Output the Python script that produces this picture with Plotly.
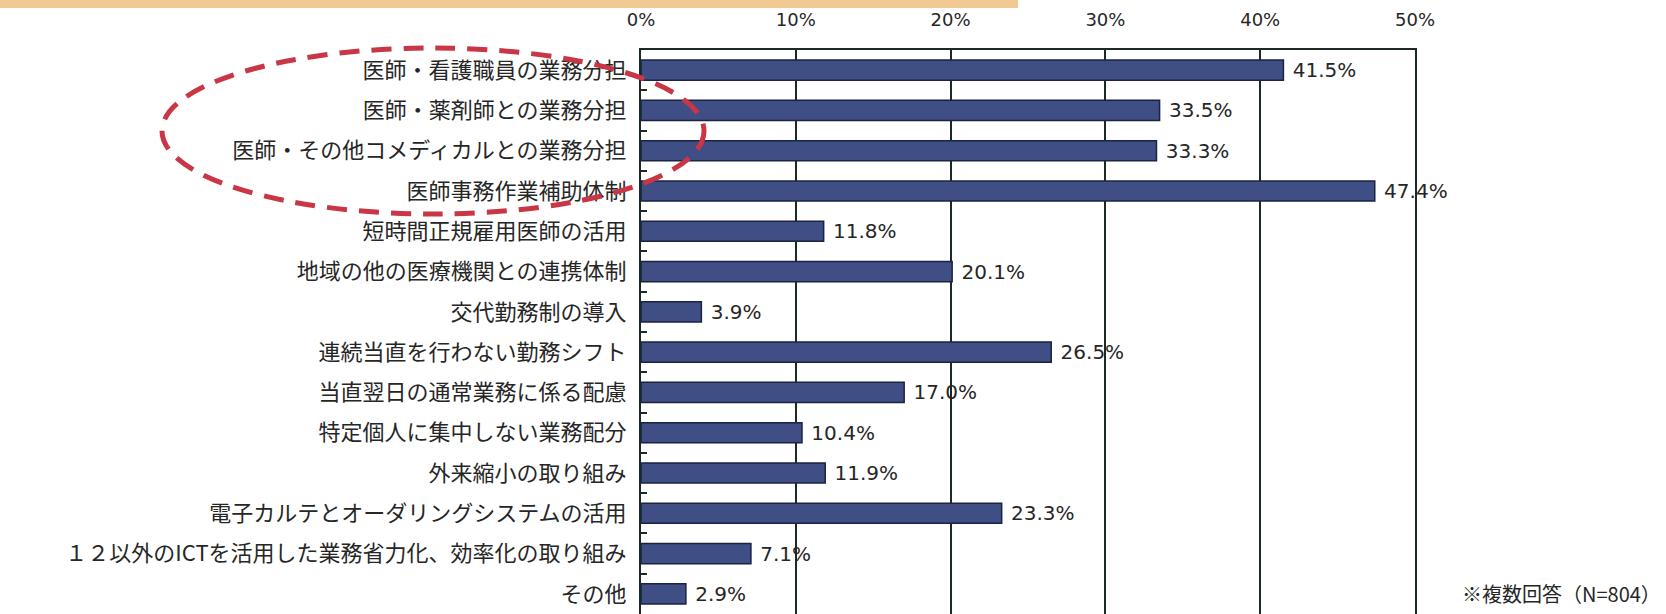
import plotly.graph_objects as go

# ── Data ──────────────────────────────────────────────────────────────────────
categories = [
    "医師・看護職員の業務分担",
    "医師・薬剤師との業務分担",
    "医師・その他コメディカルとの業務分担",
    "医師事務作業補助体制",
    "短時間正規雇用医師の活用",
    "地域の他の医療機関との連携体制",
    "交代勤務制の導入",
    "連続当直を行わない勤務シフト",
    "当直翌日の通常業務に係る配慮",
    "特定個人に集中しない業務配分",
    "外来縮小の取り組み",
    "電子カルテとオーダリングシステムの活用",
    "１２以外のICTを活用した業務省力化、効率化の取り組み",
    "その他",
]
percents = [41.5, 33.5, 33.3, 47.4, 11.8, 20.1, 3.9, 26.5, 17.0, 10.4, 11.9, 23.3, 7.1, 2.9]
x_ticks = [0, 10, 20, 30, 40, 50]
x_tick_labels = ["0%", "10%", "20%", "30%", "40%", "50%"]
note = "※複数回答（N=804）"

# ── Layout constants (pixels) ────────────────────────────────────────────────
W, H = 1666, 614
ML, MR, MT, MB = 641, 251, 50, 0
PW, PH = W - ML - MR, H - MT - MB

def px_x(px):
    return (px - ML) / PW

def px_y(py):
    return (H - MB - py) / PH

GRID = "#1c2a27"
BAR_FILL = "#3f4f86"
BAR_EDGE = "#1b2340"
TXT = "#262626"
JP = "Noto Sans CJK JP"
LAT = "DejaVu Sans"

fig = go.Figure(go.Bar(
    x=percents, y=categories, orientation="h",
    marker=dict(color=BAR_FILL, line=dict(color=BAR_EDGE, width=1.5)),
    texttemplate=" %{x:.1f}%", textposition="outside",
    textfont=dict(family=LAT, size=20, color=TXT),
    cliponaxis=False, constraintext="none",
    hoverinfo="skip",
))

fig.update_xaxes(
    range=[0, 50], side="top", automargin=False,
    tickmode="array", tickvals=x_ticks, ticktext=x_tick_labels,
    tickfont=dict(family=LAT, size=18, color=TXT),
    ticklabelstandoff=15,
    showgrid=True, gridcolor=GRID, gridwidth=2,
    showline=True, linecolor=GRID, linewidth=2,
    zeroline=False, ticks="",
)
fig.update_yaxes(
    autorange="reversed", automargin=False,
    tickfont=dict(family=JP, size=22, color=TXT),
    ticks="inside", tickson="boundaries", ticklen=6, tickwidth=1.5, tickcolor=GRID,
    ticklabelstandoff=8,
    showline=True, mirror=True, linecolor=GRID, linewidth=2,
    showgrid=False,
)

shapes = [
    # scanned orange band at the top-left
    dict(type="rect", xref="paper", yref="paper",
         x0=px_x(0), x1=px_x(1018), y0=px_y(0), y1=px_y(8),
         fillcolor="#f3c993", line=dict(width=0), layer="below"),
    # red dashed ellipse round the first four items
    dict(type="circle", xref="paper", yref="paper",
         x0=px_x(162), x1=px_x(704), y0=px_y(214), y1=px_y(48),
         line=dict(color="#c93645", width=5, dash="20px,12px"),
         fillcolor="rgba(0,0,0,0)", layer="above"),
]

fig.update_layout(
    width=W, height=H,
    margin=dict(l=ML, r=MR, t=MT, b=MB),
    paper_bgcolor="white", plot_bgcolor="white",
    bargap=0.5, showlegend=False,
    shapes=shapes,
    annotations=[dict(
        text=note, xref="paper", yref="paper",
        x=px_x(1663), y=px_y(593), xanchor="right", yanchor="middle",
        showarrow=False, font=dict(family=JP, size=20, color=TXT),
    )],
)

# drop the browser's default 8px body margin so the figure fills the window
fig.write_html("out.html", config={"displayModeBar": False},
               post_script="document.body.style.margin='0';")
